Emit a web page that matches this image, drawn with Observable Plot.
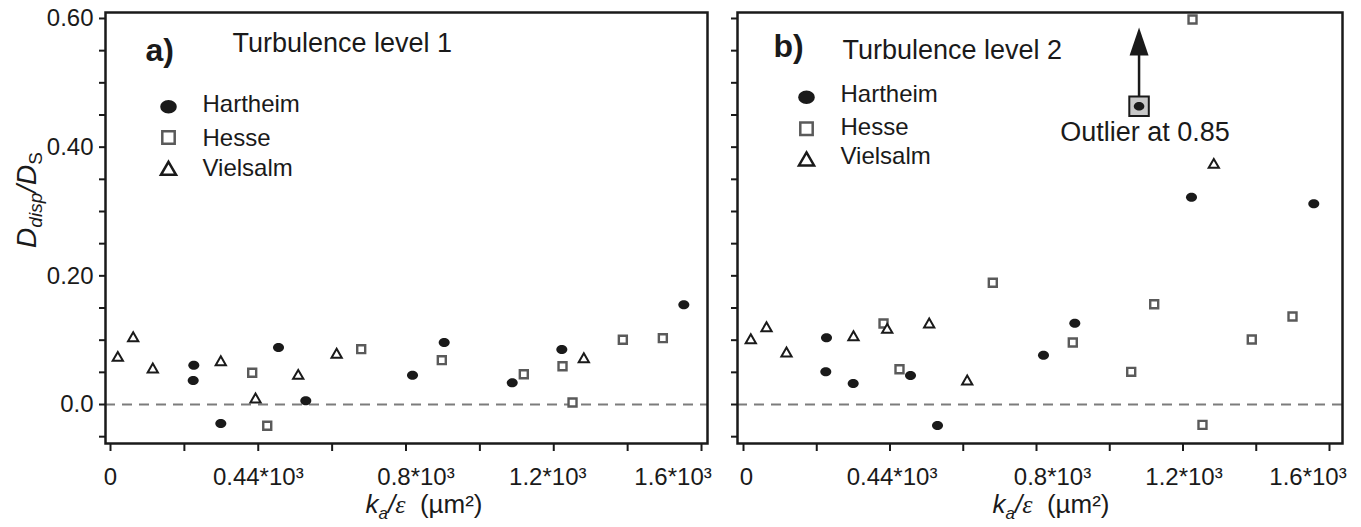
<!DOCTYPE html>
<html><head><meta charset="utf-8">
<script src="https://cdn.jsdelivr.net/npm/d3@7"></script>
<script src="https://cdn.jsdelivr.net/npm/@observablehq/plot@0.6"></script>
<style>
body{margin:0;background:#fff;}
#chart{display:flex;width:1361px;height:527px;background:#fff;}
#chart svg{flex:none;}
</style></head><body><div id="chart"></div>
<script>
// ---------- data ----------
const seriesNames = ["Hartheim", "Hesse", "Vielsalm"];

// Turbulence level 1
const hartheim1X = [225.5, 223.9, 454.8, 298.6, 528.7, 817.6, 903.4, 1087.5, 1221.8, 1552.1];
const hartheim1Y = [0.0611, 0.0373, 0.0886, -0.0295, 0.0058, 0.0455, 0.0964, 0.0337, 0.0855, 0.155];
const hesse1X = [383.6, 424.3, 678.7, 896.9, 1118.9, 1223.7, 1250.8, 1387, 1495.3];
const hesse1Y = [0.0493, -0.0331, 0.086, 0.0689, 0.0471, 0.0595, 0.0031, 0.1006, 0.1031];
const vielsalm1X = [19.8, 61.4, 114.5, 298.6, 392.6, 508.2, 612.2, 1281.4];
const vielsalm1Y = [0.0726, 0.1031, 0.0544, 0.0658, 0.0078, 0.0446, 0.0773, 0.0704];

// Turbulence level 2
const hartheim2X = [226.6, 224.7, 299.5, 456, 529.7, 819.1, 904.6, 1223.2, 1557.1];
const hartheim2Y = [0.1037, 0.0508, 0.0326, 0.0451, -0.0326, 0.0766, 0.1264, 0.3222, 0.312];
const hesse2X = [382.3, 425.9, 680.7, 899.1, 1058.6, 1121.4, 1226, 1253.2, 1387.8, 1499];
const hesse2Y = [0.1259, 0.0549, 0.1892, 0.0964, 0.0508, 0.1559, 0.5985, -0.0316, 0.101, 0.1368];
const vielsalm2X = [19.9, 62.8, 117.4, 300.3, 392.4, 507, 610.8, 1284.1];
const vielsalm2Y = [0.1, 0.1186, 0.0793, 0.1046, 0.1161, 0.1244, 0.0358, 0.3726];

// outlier indicator (Hartheim, level 2)
const outlierValue = 0.85;
const outlierMarkX = 1080;
const outlierMarkY = 0.4635;
const outlierArrowTipY = 0.5643;

// ticks
const xTicks = [0, 200, 400, 600, 800, 1000, 1200, 1400, 1600];
const xLabelValues = [0, 400, 800, 1200, 1600];
const xLabelTexts = ["0", "0.44*10³", "0.8*10³", "1.2*10³", "1.6*10³"];
const yTicks = [-0.05, 0, 0.05, 0.1, 0.15, 0.2, 0.25, 0.3, 0.35, 0.4, 0.45, 0.5, 0.55, 0.6];
const yLabelValues = [0, 0.2, 0.4, 0.6];
const yLabelTexts = ["0.0", "0.20", "0.40", "0.60"];

const titles = ["Turbulence level 1", "Turbulence level 2"];
const letters = ["a)", "b)"];

// ---------- drawing ----------
const FONT = "'Liberation Sans', Arial, Helvetica, sans-serif";
const INK = "#1a1a1a";

const ellipse = {
  draw(ctx, size) {
    const r = Math.sqrt(size / Math.PI), rx = r * 1.1, ry = r * 0.9, k = 0.5523;
    ctx.moveTo(rx, 0);
    ctx.bezierCurveTo(rx, ry * k, rx * k, ry, 0, ry);
    ctx.bezierCurveTo(-rx * k, ry, -rx, ry * k, -rx, 0);
    ctx.bezierCurveTo(-rx, -ry * k, -rx * k, -ry, 0, -ry);
    ctx.bezierCurveTo(rx * k, -ry, rx, -ry * k, rx, 0);
    ctx.closePath();
  }
};
const arrowHead = {
  draw(ctx) { ctx.moveTo(0, -14); ctx.lineTo(9.5, 14); ctx.lineTo(-9.5, 14); ctx.closePath(); }
};

const rows = (xs, ys) => xs.map((x, i) => ({x, y: ys[i]}));
const yFmt = d => { const i = yLabelValues.findIndex(v => Math.abs(v - d) < 1e-9); return i >= 0 ? yLabelTexts[i] : ""; };

const symStyles = [
  {symbol: ellipse, fill: INK, stroke: "none"},
  {symbol: "square", fill: "white", stroke: "#5a5a5a", strokeWidth: 2.4},
  {symbol: "triangle", fill: "white", stroke: INK, strokeWidth: 2}
];
const dataR = [5, 4.5, 3.8];
const legendR = [7.5, 7, 5.6];

function panel(cfg) {
  const marks = [
    Plot.ruleY([0], {stroke: "#7c7c7c", strokeWidth: 2.2, strokeDasharray: "10,7"}),
    Plot.axisY({ticks: yTicks, tickFormat: cfg.yLabels ? yFmt : () => "", tickSize: 6, tickPadding: 6, fontSize: 24, strokeWidth: 2, label: null}),
    Plot.axisX({ticks: xTicks, tickFormat: () => "", tickSize: 8, strokeWidth: 2, label: null}),
    Plot.frame({stroke: INK, strokeWidth: 2.5}),
    Plot.dot(rows(cfg.hesseX, cfg.hesseY), {x: "x", y: "y", r: dataR[1], ...symStyles[1]}),
    Plot.dot(rows(cfg.vielX, cfg.vielY), {x: "x", y: "y", r: dataR[2], ...symStyles[2]}),
    Plot.dot(rows(cfg.hartX, cfg.hartY), {x: "x", y: "y", r: dataR[0], ...symStyles[0]}),
    Plot.text([cfg.letter], {frameAnchor: "top-left", lineAnchor: "middle", dx: cfg.letterPos[0], dy: cfg.letterPos[1], text: d => d, textAnchor: "start", fontSize: 32, fontWeight: "bold", fill: INK}),
    Plot.text([cfg.title], {frameAnchor: "top-left", lineAnchor: "middle", dx: cfg.titlePos[0], dy: cfg.titlePos[1], text: d => d, textAnchor: "start", fontSize: 27, fill: INK})
  ];
  // x tick labels (individually nudged as in the original figure)
  xLabelValues.forEach((v, i) => {
    marks.push(Plot.text([v], {x: d => d, frameAnchor: "bottom", lineAnchor: "top", dy: 24, dx: cfg.labelDx[i], text: () => xLabelTexts[i], fontSize: 24, fill: INK}));
  });
  seriesNames.forEach((name, i) => {
    marks.push(Plot.dot([name], {frameAnchor: "top-left", dx: cfg.legend.mx, dy: cfg.legend.my[i], r: legendR[i], ...symStyles[i], strokeWidth: i ? 2.5 : undefined}));
    marks.push(Plot.text([name], {frameAnchor: "top-left", lineAnchor: "middle", dx: cfg.legend.tx, dy: cfg.legend.ty[i], text: d => d, textAnchor: "start", fontSize: 24, fill: INK}));
  });
  if (cfg.outlier) {
    const o = [{x: outlierMarkX, y: outlierMarkY, tip: outlierArrowTipY, label: `Outlier at ${outlierValue}`}];
    marks.push(
      Plot.link(o, {x1: "x", x2: "x", y1: "y", y2: "tip", stroke: INK, strokeWidth: 2.5}),
      Plot.dot(o, {x: "x", y: "tip", symbol: arrowHead, fill: INK, stroke: "none"}),
      Plot.dot(o, {x: "x", y: "y", symbol: "square", r: 11, fill: "#c8c8c8", stroke: INK, strokeWidth: 2}),
      Plot.dot(o, {x: "x", y: "y", symbol: ellipse, r: 4.8, fill: INK}),
      Plot.text(o, {x: "x", y: "y", text: "label", lineAnchor: "middle", dy: 25.6, dx: 6, fontSize: 27, fill: INK})
    );
  }
  const svg = Plot.plot({
    width: cfg.width, height: 527,
    marginLeft: cfg.marginLeft, marginRight: cfg.marginRight, marginTop: 12, marginBottom: 84,
    x: {domain: cfg.xDomain},
    y: {domain: [-0.0606, 0.6093]},
    style: {fontFamily: FONT, color: INK, background: "white", overflow: "visible"},
    marks
  });
  const s = d3.select(svg);
  // x-axis label
  const xl = s.append("text").attr("x", cfg.xLabelX).attr("y", 513).attr("text-anchor", "middle")
    .attr("font-size", 26).attr("font-family", FONT).attr("fill", INK).style("white-space", "pre");
  xl.append("tspan").attr("font-style", "italic").text("k");
  xl.append("tspan").attr("font-style", "italic").attr("font-size", 17).attr("dy", 6).text("a");
  xl.append("tspan").attr("font-style", "italic").attr("dy", -6).text("/");
  xl.append("tspan").attr("font-style", "italic").attr("font-family", "'Liberation Serif', 'DejaVu Serif', serif").text("ε");
  xl.append("tspan").text("  (µm²)");
  if (cfg.yLabels) {
    const yl = s.append("text").attr("transform", "translate(36,200) rotate(-90)").attr("text-anchor", "middle")
      .attr("font-size", 28).attr("font-family", FONT).attr("fill", INK);
    yl.append("tspan").attr("font-style", "italic").text("D");
    yl.append("tspan").attr("font-style", "italic").attr("font-size", 19).attr("dy", 6).text("disp");
    yl.append("tspan").attr("font-style", "italic").attr("dy", -6).text("/D");
    yl.append("tspan").attr("font-size", 19).attr("dy", 6).text("S");
  }
  return svg;
}

const chart = document.getElementById("chart");
chart.append(panel({
  width: 720, marginLeft: 105, marginRight: 13, xDomain: [-13.54, 1616.2], yLabels: true,
  hartX: hartheim1X, hartY: hartheim1Y, hesseX: hesse1X, hesseY: hesse1Y, vielX: vielsalm1X, vielY: vielsalm1Y,
  letter: letters[0], letterPos: [40, 38], title: titles[0], titlePos: [127, 31],
  legend: {mx: 63, my: [94.3, 125, 158], tx: 97, ty: [92, 125.5, 155.5]},
  labelDx: [0, 0, 10, -6, -28.5],
  xLabelX: 424, outlier: false
}));
chart.append(panel({
  width: 641, marginLeft: 17, marginRight: 19, xDomain: [-16.4, 1635.5], yLabels: false,
  hartX: hartheim2X, hartY: hartheim2Y, hesseX: hesse2X, hesseY: hesse2Y, vielX: vielsalm2X, vielY: vielsalm2Y,
  letter: letters[1], letterPos: [36, 34], title: titles[1], titlePos: [105, 38],
  legend: {mx: 69, my: [84.7, 116.3, 148.6], tx: 103, ty: [82, 115, 143.5]},
  labelDx: [3, 2, 16, 1, -21.5],
  xLabelX: 331, outlier: true
}));
</script></body></html>
